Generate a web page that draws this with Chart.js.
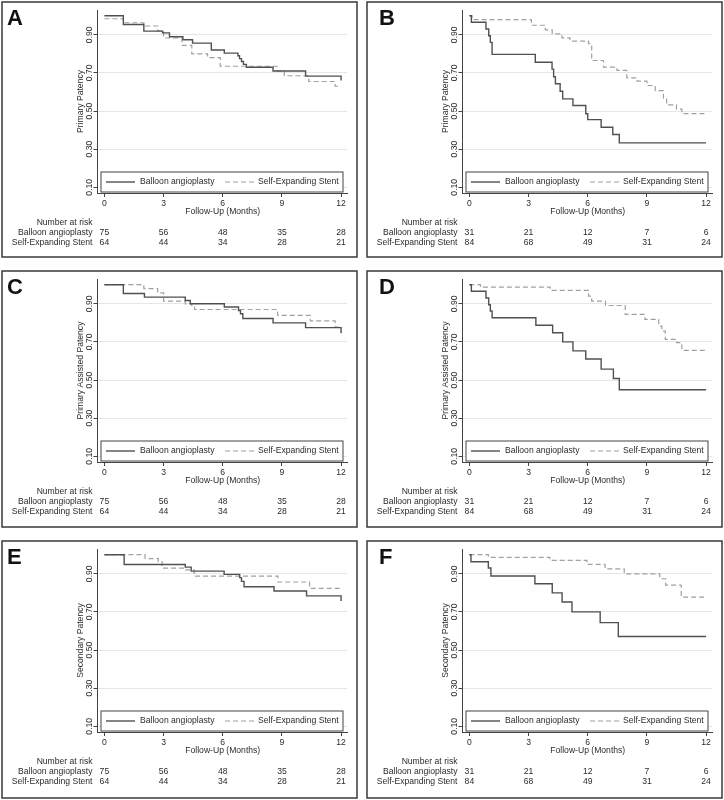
<!DOCTYPE html>
<html>
<head>
<meta charset="utf-8">
<script src="https://cdn.jsdelivr.net/npm/chart.js@4.4.0/dist/chart.umd.min.js"></script>
<style>
  body { margin: 0; background: #fff; }
  canvas { position: absolute; }
</style>
</head>
<body>
<canvas id="pA" width="358" height="260" style="left:1px;top:1px"></canvas>
<canvas id="pB" width="358" height="260" style="left:366px;top:1px"></canvas>
<canvas id="pC" width="358" height="260" style="left:1px;top:270px"></canvas>
<canvas id="pD" width="358" height="260" style="left:366px;top:270px"></canvas>
<canvas id="pE" width="358" height="260" style="left:1px;top:540px"></canvas>
<canvas id="pF" width="358" height="260" style="left:366px;top:540px"></canvas>
<script>
// axis ticks
const xTicks = [0, 3, 6, 9, 12];
const yTicks = [0.10, 0.30, 0.50, 0.70, 0.90];

// number at risk (months 0, 3, 6, 9, 12)
const riskTimes = [0, 3, 6, 9, 12];
const riskBalloonLeft = [75, 56, 48, 35, 28];
const riskStentLeft = [64, 44, 34, 28, 21];
const riskBalloonRight = [31, 21, 12, 7, 6];
const riskStentRight = [84, 68, 49, 31, 24];

// KM curves, [month, survival]
const aBalloon = [[0,1],[0.96,0.954],[2.0,0.919],[2.95,0.91],[3.3,0.89],[3.98,0.874],[4.47,0.856],[5.42,0.82],[6.08,0.804],[6.77,0.79],[6.85,0.775],[6.95,0.76],[7.05,0.745],[7.2,0.73],[8.55,0.71],[10.2,0.683],[12,0.66]];
const aStent = [[0,0.984],[0.96,0.963],[2.0,0.946],[2.7,0.92],[3.0,0.883],[3.93,0.844],[4.43,0.80],[5.23,0.78],[5.87,0.735],[8.75,0.71],[9.12,0.685],[10.36,0.655],[11.7,0.63],[12,0.63]];

const bBalloon = [[0,1],[0.1,0.966],[0.84,0.93],[0.98,0.895],[1.06,0.86],[1.15,0.797],[3.34,0.756],[4.19,0.72],[4.27,0.68],[4.36,0.643],[4.6,0.604],[4.73,0.564],[5.25,0.529],[5.9,0.486],[6.0,0.455],[6.68,0.415],[7.27,0.377],[7.6,0.333],[12,0.333]];
const bStent = [[0,1],[0.13,0.98],[3.14,0.95],[3.85,0.926],[4.2,0.905],[4.69,0.884],[5.1,0.867],[6.04,0.853],[6.2,0.765],[6.8,0.73],[7.48,0.713],[7.98,0.674],[8.5,0.657],[9.0,0.634],[9.42,0.607],[9.84,0.567],[10.0,0.532],[10.5,0.51],[10.77,0.486],[12,0.486]];

const cBalloon = [[0,1],[0.96,0.954],[2.03,0.935],[4.1,0.917],[4.35,0.90],[6.08,0.883],[6.8,0.865],[6.9,0.848],[7.02,0.823],[8.55,0.80],[10.2,0.775],[12,0.745]];
const cStent = [[0,1],[2.0,0.98],[2.7,0.957],[3.0,0.914],[4.1,0.90],[4.43,0.883],[4.57,0.87],[8.78,0.839],[10.44,0.81],[11.7,0.778],[12,0.778]];

const dBalloon = [[0,1],[0.1,0.966],[0.84,0.93],[0.98,0.895],[1.06,0.862],[1.15,0.827],[3.37,0.787],[4.22,0.748],[4.73,0.70],[5.25,0.653],[5.9,0.61],[6.68,0.557],[7.3,0.508],[7.6,0.449],[12,0.449]];
const dStent = [[0,1],[0.56,0.987],[4.1,0.97],[6.04,0.94],[6.2,0.914],[6.9,0.891],[7.9,0.844],[8.9,0.818],[9.6,0.783],[9.76,0.757],[9.93,0.713],[10.5,0.696],[10.77,0.656],[12,0.656]];

const eBalloon = [[0,1],[1.0,0.949],[4.1,0.935],[4.4,0.914],[6.07,0.897],[6.86,0.88],[6.95,0.86],[7.08,0.832],[8.6,0.81],[10.25,0.784],[12,0.757]];
const eStent = [[0,1],[2.06,0.98],[2.73,0.963],[2.93,0.93],[4.05,0.92],[4.55,0.888],[8.8,0.857],[10.4,0.823],[12,0.823]];

const fBalloon = [[0,1],[0.08,0.963],[0.96,0.93],[1.09,0.888],[3.32,0.848],[4.2,0.80],[4.7,0.752],[5.2,0.70],[6.63,0.644],[7.55,0.571],[12,0.571]];
const fStent = [[0,1],[0.96,0.986],[4.08,0.97],[5.96,0.949],[6.88,0.926],[7.85,0.90],[9.65,0.874],[9.95,0.841],[10.74,0.778],[12,0.778]];

const FAMILY = '"Liberation Sans", Arial, sans-serif';
const FONT = '8.6px ' + FAMILY;
const TEXT = '#2b2b2b';
const AXIS = '#444';

// draws the Stata-like bits: frame, panel letter, rotated y labels, legend box, risk table
const panelDecor = {
  id: 'panelDecor',
  afterDraw(chart, args, opts) {
    const ctx = chart.ctx;
    const area = chart.chartArea;
    const xs = chart.scales.x;
    const ys = chart.scales.y;
    ctx.save();

    ctx.strokeStyle = '#3a3a3a';
    ctx.lineWidth = 1.5;
    ctx.strokeRect(1, 1, 355, opts.boxH);

    ctx.fillStyle = '#111';
    ctx.font = 'bold 22px ' + FAMILY;
    ctx.textAlign = 'left';
    ctx.textBaseline = 'alphabetic';
    ctx.fillText(opts.letter, opts.letterX, 24);

    ctx.font = FONT;
    ctx.fillStyle = TEXT;
    ctx.textAlign = 'center';
    ctx.textBaseline = 'middle';
    yTicks.forEach(v => {
      ctx.save();
      ctx.translate(area.left - 8, ys.getPixelForValue(v));
      ctx.rotate(-Math.PI / 2);
      ctx.fillText(v.toFixed(2), 0, 0);
      ctx.restore();
    });
    ctx.save();
    ctx.translate(area.left - 17, (area.top + area.bottom) / 2);
    ctx.rotate(-Math.PI / 2);
    ctx.fillText(opts.yTitle, 0, 0);
    ctx.restore();

    const x0 = xs.getPixelForValue(0), x12 = xs.getPixelForValue(12);
    ctx.fillText('Follow-Up (Months)', (x0 + x12) / 2, area.bottom + 18.5);

    // legend
    const lx = area.left + 3.5, ly = area.bottom - 21;
    ctx.fillStyle = '#fff';
    ctx.fillRect(lx, ly, area.right - 4 - lx, 20);
    ctx.strokeStyle = AXIS;
    ctx.lineWidth = 1;
    ctx.strokeRect(lx, ly, area.right - 4 - lx, 20);
    const cy = ly + 10;
    const slots = [[8.5, 42.5], [127.5, 160.5]];
    chart.data.datasets.forEach((ds, i) => {
      const s = slots[i];
      ctx.strokeStyle = ds.borderColor;
      ctx.lineWidth = ds.borderWidth;
      ctx.setLineDash(ds.borderDash || []);
      ctx.beginPath();
      ctx.moveTo(area.left + s[0], cy);
      ctx.lineTo(area.left + s[0] + 29, cy);
      ctx.stroke();
      ctx.setLineDash([]);
      ctx.fillStyle = TEXT;
      ctx.textAlign = 'left';
      ctx.fillText(ds.label, area.left + s[1], cy);
    });

    // number at risk
    ctx.textAlign = 'right';
    const rx = area.left - 5;
    ctx.fillText('Number at risk', rx, area.bottom + 29.5);
    ctx.fillText('Balloon angioplasty', rx, area.bottom + 40);
    ctx.fillText('Self-Expanding Stent', rx, area.bottom + 50);
    ctx.textAlign = 'center';
    riskTimes.forEach((t, i) => {
      const px = xs.getPixelForValue(t);
      ctx.fillText(String(opts.riskBalloon[i]), px, area.bottom + 40);
      ctx.fillText(String(opts.riskStent[i]), px, area.bottom + 50);
    });
    ctx.restore();
  }
};

function toPoints(arr) {
  return arr.map(p => ({ x: p[0], y: p[1] }));
}

function makeConfig(balloon, stent, decor) {
  return {
    type: 'line',
    data: {
      datasets: [
        {
          label: 'Balloon angioplasty',
          data: toPoints(balloon),
          stepped: true,
          borderColor: '#505050',
          borderWidth: 1.4,
          pointRadius: 0,
          fill: false
        },
        {
          label: 'Self-Expanding Stent',
          data: toPoints(stent),
          stepped: true,
          borderColor: '#a0a0a0',
          borderWidth: 1.2,
          borderDash: [5, 3],
          pointRadius: 0,
          fill: false
        }
      ]
    },
    options: {
      responsive: false,
      animation: false,
      devicePixelRatio: 1,
      layout: { padding: { top: 9, left: 0, right: 12, bottom: 0 } },
      plugins: {
        legend: { display: false },
        tooltip: { enabled: false },
        panelDecor: decor
      },
      scales: {
        x: {
          type: 'linear',
          min: -0.35,
          max: 12.3,
          afterBuildTicks: s => { s.ticks = xTicks.map(v => ({ value: v })); },
          afterFit: s => { s.height = 68; },
          grid: { drawOnChartArea: false, tickLength: 4, tickColor: AXIS },
          border: { color: AXIS, width: 1 },
          ticks: { color: TEXT, font: { family: FAMILY, size: 8.6 }, padding: 1, maxRotation: 0 }
        },
        y: {
          type: 'linear',
          min: 0.07,
          max: 1.03,
          afterBuildTicks: s => { s.ticks = yTicks.map(v => ({ value: v })); },
          afterFit: s => { s.width = 96.5; },
          grid: { color: '#e6e6e6', tickLength: 4, tickColor: AXIS },
          border: { color: AXIS, width: 1 },
          ticks: { display: false }
        }
      }
    },
    plugins: [panelDecor]
  };
}

const panels = [
  ['pA', aBalloon, aStent, { letter: 'A', letterX: 6, boxH: 255, yTitle: 'Primary Patency', riskBalloon: riskBalloonLeft, riskStent: riskStentLeft }],
  ['pB', bBalloon, bStent, { letter: 'B', letterX: 13, boxH: 255, yTitle: 'Primary Patency', riskBalloon: riskBalloonRight, riskStent: riskStentRight }],
  ['pC', cBalloon, cStent, { letter: 'C', letterX: 6, boxH: 256, yTitle: 'Primary Assisted Patency', riskBalloon: riskBalloonLeft, riskStent: riskStentLeft }],
  ['pD', dBalloon, dStent, { letter: 'D', letterX: 13, boxH: 256, yTitle: 'Primary Assisted Patency', riskBalloon: riskBalloonRight, riskStent: riskStentRight }],
  ['pE', eBalloon, eStent, { letter: 'E', letterX: 6, boxH: 257, yTitle: 'Secondary Patency', riskBalloon: riskBalloonLeft, riskStent: riskStentLeft }],
  ['pF', fBalloon, fStent, { letter: 'F', letterX: 13, boxH: 257, yTitle: 'Secondary Patency', riskBalloon: riskBalloonRight, riskStent: riskStentRight }]
];

window.onload = function() {
  panels.forEach(p => {
    const ctx = document.getElementById(p[0]).getContext('2d');
    new Chart(ctx, makeConfig(p[1], p[2], p[3]));
  });
};
</script>
</body>
</html>
